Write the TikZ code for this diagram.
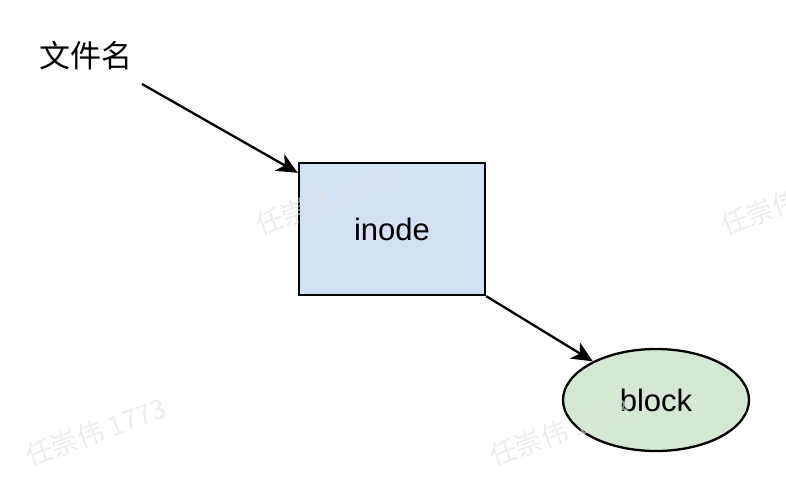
\documentclass[tikz,border=0pt]{standalone}
\usepackage{fontspec}
\setmainfont{Liberation Sans}
\newfontfamily\cjk{Noto Sans CJK SC}
\usetikzlibrary{arrows.meta,shapes.geometric}
\begin{document}
\begin{tikzpicture}[x=1pt,y=-1pt,
  every node/.style={font=\fontsize{31}{36}\selectfont},
  lbl/.style={inner sep=0pt},
  boxnode/.style={draw=black,line width=2.3pt,fill=boxblue,minimum width=186pt,minimum height=132pt,inner sep=0pt},
  ellnode/.style={draw=black,line width=2.3pt,fill=ellgreen,ellipse,minimum width=186pt,minimum height=102pt,inner sep=0pt},
  arr/.style={line width=2.3pt,-{Stealth[length=21pt,width=19pt,inset=6pt]}},
  wmark/.style={text=wmgray,text opacity=0.6,rotate=20,inner sep=0pt,font=\cjk\fontsize{27}{32}\selectfont}
]
\definecolor{boxblue}{HTML}{D4E1F5}
\definecolor{ellgreen}{HTML}{D5E8D4}
\definecolor{wmgray}{HTML}{E0E0E0}
\useasboundingbox (0,0) rectangle (786,490);
\clip (0,0) rectangle (786,490);

% nodes
\node[lbl,font=\cjk\fontsize{31}{36}\selectfont] (fn) at (86,56) {文件名};
\node[boxnode] (inode) at (392,229) {inode};
\node[ellnode] (blk) at (656,400) {block};

% connectors
\coordinate (fnend) at (142,84);
\draw[arr] (fnend) -- ([yshift=-11pt]inode.north west);
\draw[arr] (inode.south east) -- (blk);

% faint marks laid over everything
\node[wmark] (wm1) at (326,201) {任崇伟 1773};
\node[wmark] (wm2) at (96,432) {任崇伟 1773};
\node[wmark] (wm3) at (560,432) {任崇伟 1773};
\node[wmark] (wm4) at (791,201) {任崇伟 1773};
\end{tikzpicture}
\end{document}
